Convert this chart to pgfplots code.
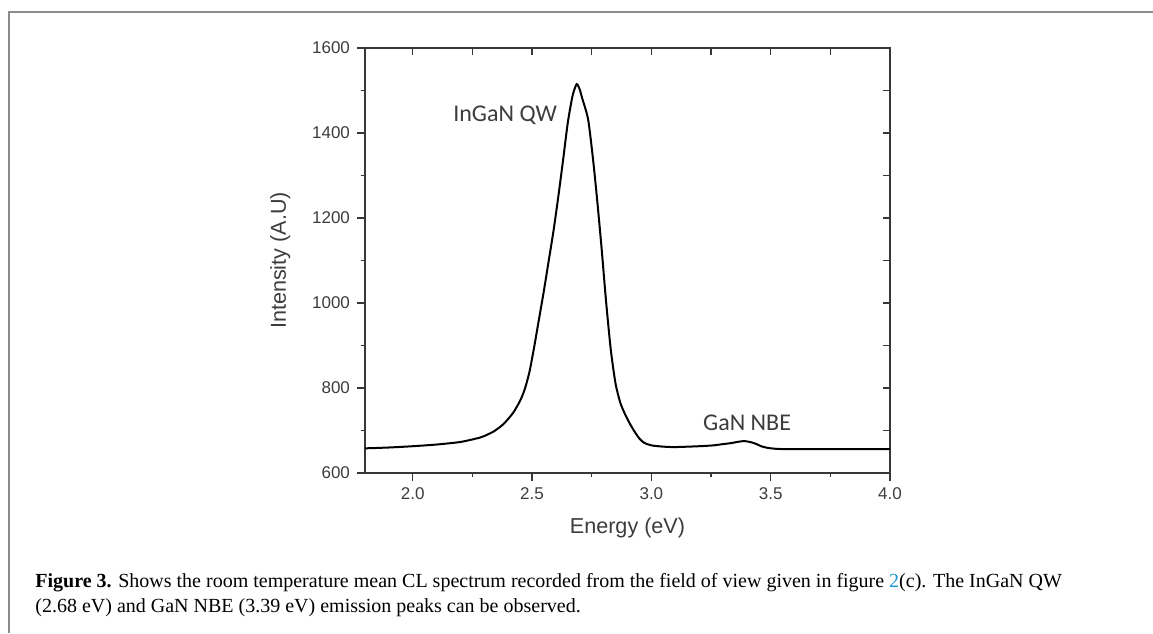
\documentclass[border=0pt]{standalone}
\usepackage{pgfplots}
\pgfplotsset{compat=1.18}
\usepackage{fontspec}
\setmainfont{Liberation Serif}
\newfontfamily\arial{Liberation Sans}
\newfontfamily\calibri{Carlito}
\definecolor{axgray}{RGB}{55,55,55}
\definecolor{txtgray}{RGB}{60,60,60}
\definecolor{framegray}{RGB}{140,140,140}
\definecolor{linkblue}{RGB}{30,150,210}
\begin{document}
\begin{tikzpicture}
\useasboundingbox (0,0) rectangle (576.5pt,316.5pt);
\draw[framegray, line width=0.9pt] (4.5pt,0) -- (4.5pt,310.5pt) -- (576.5pt,310.5pt);
\begin{axis}[
  at={(182.5pt,80pt)}, anchor=south west,
  scale only axis, width=262.5pt, height=212.5pt,
  xmin=1.8, xmax=4.0, ymin=600, ymax=1600,
  axis line style={axgray, line width=0.75pt},
  xtick={2.0,2.5,3.0,3.5,4.0}, ytick={600,800,...,1600},
  minor x tick num=1, minor y tick num=1,
  xtick pos=bottom, ytick pos=left,
  tick align=outside,
  major tick length=4pt, minor tick length=2.2pt,
  tick style={axgray, line width=0.6pt},
  xticklabel style={/pgf/number format/.cd, fixed, fixed zerofill, precision=1, assume math mode=true},
  yticklabel style={/pgf/number format/.cd, fixed, assume math mode=true, 1000 sep={}},
  ticklabel style={font=\arial\fontsize{8.5}{10}\selectfont, text=txtgray},
  xlabel={Energy (eV)}, ylabel={Intensity (A.U)},
  label style={font=\arial\fontsize{10.8}{12}\selectfont, text=txtgray},
  xlabel style={yshift=-2pt},
  ylabel style={yshift=4pt},
]
\addplot[black, line width=1pt, smooth, tension=0.4] coordinates {
(1.80,658) (1.90,660) (2.00,663) (2.10,667) (2.20,673) (2.28,683) (2.30,687)
(2.34,698) (2.38,715) (2.42,741) (2.45,770) (2.47,798) (2.49,840) (2.51,900)
(2.53,965) (2.55,1030) (2.57,1100) (2.59,1170) (2.61,1250) (2.63,1336)
(2.65,1425) (2.67,1488) (2.687,1515) (2.70,1502) (2.71,1482) (2.735,1432)
(2.756,1336) (2.775,1230) (2.792,1125) (2.81,1005) (2.83,890) (2.85,810)
(2.87,765) (2.89,738) (2.91,716) (2.93,697) (2.95,681) (2.97,671) (3.00,665)
(3.05,662) (3.10,661) (3.20,663) (3.26,665) (3.30,668) (3.33,670) (3.37,674)
(3.393,675) (3.42,672) (3.441,668) (3.46,663) (3.483,659.6) (3.52,657)
(3.60,656) (4.00,656)
};
\node[font=\calibri\fontsize{12}{14}\selectfont, text=txtgray] at (axis cs:2.387,1442) {InGaN QW};
\node[font=\calibri\fontsize{12}{14}\selectfont, text=txtgray] at (axis cs:3.401,718) {GaN NBE};
\end{axis}
\begin{axis}[
  at={(182.5pt,80pt)}, anchor=south west,
  scale only axis, width=262.5pt, height=212.5pt,
  xmin=1.8, xmax=4.0, ymin=600, ymax=1600,
  axis line style={draw=none},
  xtick={2.0,2.25,...,3.76}, ytick={700,800,...,1500},
  xtick pos=top, ytick pos=right,
  tick align=inside, major tick length=3.5pt,
  tick style={axgray, line width=0.6pt},
  xticklabels={}, yticklabels={},
]
\end{axis}
\node[anchor=base west, inner sep=0pt, font=\fontsize{10}{12.5}\selectfont] at (17.5pt,23pt)
  {\textbf{Figure 3.} Shows the room temperature mean CL spectrum recorded from the field of view given in figure \textcolor{linkblue}{2}(c). The InGaN QW};
\node[anchor=base west, inner sep=0pt, font=\fontsize{10}{12.5}\selectfont] at (17.5pt,10.5pt)
  {(2.68 eV) and GaN NBE (3.39 eV) emission peaks can be observed.};
\end{tikzpicture}
\end{document}
